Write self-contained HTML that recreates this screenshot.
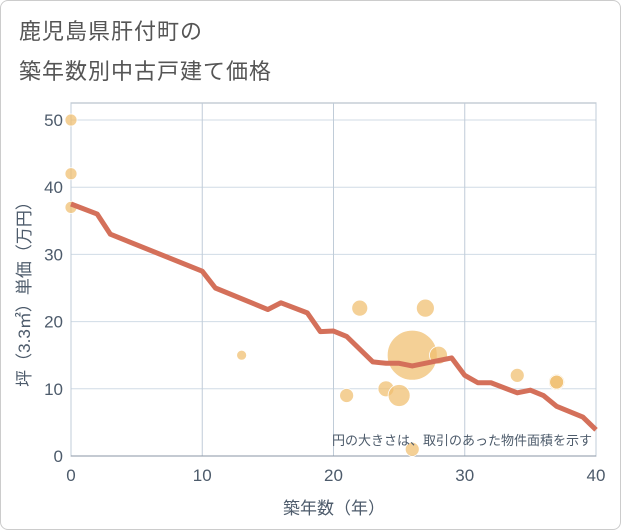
<!DOCTYPE html>
<html><head><meta charset="utf-8"><style>
body{margin:0;background:#fff;}
#w{position:relative;width:619px;height:528px;border:1px solid #ccc;border-radius:8px;overflow:hidden;font-family:"Liberation Sans","Noto Sans CJK JP",sans-serif;}
.t{position:absolute;left:18px;font-size:22px;color:#555;letter-spacing:1px}
</style></head><body>
<div id="w">
<div class="t" style="top:13px">鹿児島県肝付町の</div>
<div class="t" style="top:53px">築年数別中古戸建て価格</div>
<svg id="s" width="621" height="530" style="position:absolute;left:-1px;top:-1px"></svg>
</div>
<script>
const xTicks=[0,10,20,30,40];
const yTicks=[0,10,20,30,40,50];
const lineX=[0,2,3,10,11,15,16,18,19,20,21,23,24,25,26,28,29,30,31,32,34,35,36,37,39,40];
const lineY=[37.5,36,33,27.5,25,21.8,22.8,21.3,18.5,18.6,17.8,14,13.8,13.8,13.4,14.2,14.6,12,10.9,10.9,9.4,9.8,9,7.4,5.8,3.9];
const bubX=[0,0,0,13,21,22,24,25,26,26,27,28,34,37,37];
const bubY=[50,42,37,15,9,22,10,9,15,1,22,15,12,11,11];
const bubR=[6,6,6,5,7,8,8,11,25,7,9,9,7,8,7];
const X0=71,X1=596,Y0=456,Y1=120;
const sx=v=>X0+(v-0)/40*(X1-X0), sy=v=>Y0-(v/50)*(Y0-Y1);
const s=document.getElementById('s');const NS='http://www.w3.org/2000/svg';
const TC='#4d5b6b';
function mk(t,a){const e=document.createElementNS(NS,t);for(const k in a)e.setAttribute(k,a[k]);s.appendChild(e);return e;}
let e=mk('rect',{x:X0,y:103,width:X1-X0,height:Y0-103,fill:'none',stroke:'#aab4c0'});


yTicks.forEach(v=>{let l=mk('line',{x1:X0,x2:X1,y1:sy(v),y2:sy(v),stroke:'#d0dbe6'});


let t=mk('text',{x:X0-8,y:sy(v)+6,'text-anchor':'end','font-size':17,fill:TC});t.textContent=v;

});
xTicks.forEach(v=>{let l=mk('line',{x1:sx(v),x2:sx(v),y1:103,y2:Y0,stroke:'#c0ccd8'});


let t=mk('text',{x:sx(v),y:481,'text-anchor':'middle','font-size':17,fill:TC});t.textContent=v;

});
let ax=mk('line',{x1:X0,x2:X1,y1:Y0,y2:Y0,stroke:'#8a96a4'});


bubX.forEach((v,i)=>{let c=mk('circle',{cx:sx(v),cy:sy(bubY[i]),r:bubR[i],fill:'rgba(240,190,110,0.72)',stroke:'#fff','stroke-width':0.8});

});
let p=mk('polyline',{points:lineX.map((v,i)=>sx(v)+','+sy(lineY[i])).join(' '),fill:'none',stroke:'#d4705a','stroke-width':5,'stroke-linejoin':'round'});


let n=mk('text',{x:592,y:445,'text-anchor':'end','font-size':13,fill:TC});n.textContent='円の大きさは、取引のあった物件面積を示す';


let xt=mk('text',{x:334,y:514,'text-anchor':'middle','font-size':17,fill:TC});xt.textContent='築年数（年）';


let yt=mk('text',{x:0,y:0,'text-anchor':'middle','font-size':17,fill:TC,transform:'translate(30,290) rotate(-90)'});yt.textContent='坪（3.3㎡）単価（万円）';


</script>
</body></html>
